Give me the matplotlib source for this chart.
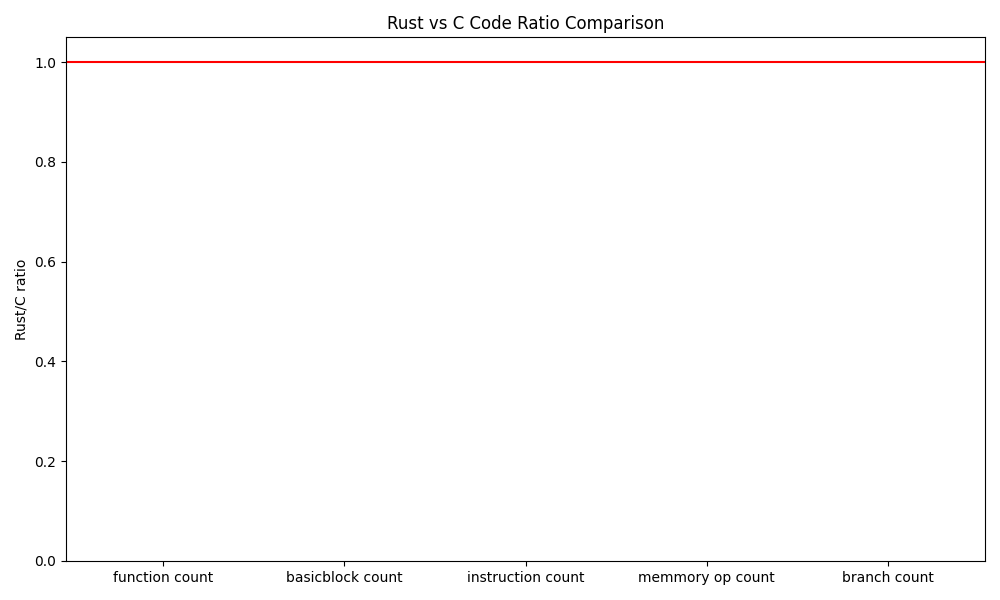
import numpy as np
import matplotlib
matplotlib.use('Agg')
import matplotlib.pyplot as plt

# metrics compared (no valid ratios were available, so the bars are empty)
metrics = ['function count', 'basicblock count', 'instruction count',
           'memmory op count', 'branch count']
ratios = [np.nan, np.nan, np.nan, np.nan, np.nan]
baseline = 1.0

fig, ax = plt.subplots(figsize=(10, 6), dpi=100)
fig.subplots_adjust(left=0.066, right=0.985, top=0.938, bottom=0.065)

x = np.arange(len(metrics))
ax.bar(x, ratios, width=0.6, color='tab:blue')
ax.axhline(baseline, color='r')

ax.set_xticks(x)
ax.set_xticklabels(metrics)
ax.set_xlim(-0.536, len(metrics) - 1 + 0.536)
ax.set_ylim(0, 1.05)
ax.set_ylabel('Rust/C ratio')
ax.set_title('Rust vs C Code Ratio Comparison')

plt.savefig('out.png')
